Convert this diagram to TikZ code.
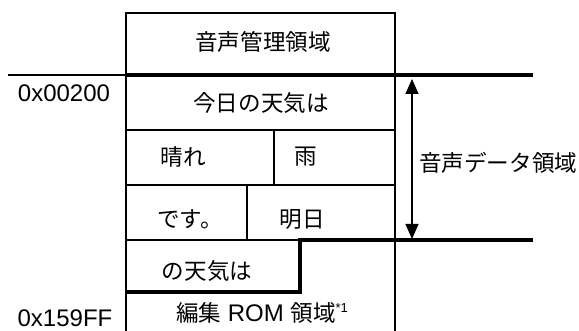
\documentclass[tikz,border=0pt]{standalone}
\usepackage{fontspec}
\setmainfont{Liberation Sans}
\newfontfamily\jp[Scale=0.94]{Noto Sans CJK JP}
\usetikzlibrary{arrows.meta}
\tikzset{cellline/.style={black, line width=1.2pt},
	bandline/.style={black, line width=3.5pt},
	span/.style={black, line width=1.5pt, {Triangle[width=13pt,length=15pt]}-{Triangle[width=13pt,length=15pt]}}}

\begin{document}
\begin{tikzpicture}[x=1pt, y=-1pt, font=\fontsize{24}{28}\selectfont]
\useasboundingbox (0,0) rectangle (579,331);
% table frame and cells
\draw[cellline](126,331)--(126,13)--(395,13)--(395,331);
\draw[cellline](8,75)--(126,75);
\draw[cellline](126,130)--(395,130) (126,185)--(395,185) (126,240)--(300,240);
\draw[cellline](274,130)--(274,185) (247,185)--(247,240);
\draw[bandline](126,75)--(533,75);
\draw[bandline](533,240)--(300,240)--(300,292)--(126,292);
% texts
\foreach \name/\x/\y/\txt in {mgmt/263/42/音声管理領域, today/261/103/今日の天気は,
	fine/183/157/晴れ, rain/306/157/雨, desu/190/219/です。, tmrw/302/219/明日,
	weather/207/271/の天気は}
	\node (\name) at (\x,\y) {\jp\txt};
\node[anchor=west, inner sep=0pt] (data) at (419,163) {\jp 音声データ領域};
\node (edit) at (262,313) {{\jp 編集} ROM {\jp 領域}\raisebox{9pt}{\fontsize{13}{13}\selectfont *1}};
\node (start) at (64,93) {0x00200};
\node (end) at (65,318) {0x159FF};
% data area span
\coordinate (top) at (412,79);
\coordinate (bot) at (412,239);
\draw[span](top)--(bot);
\end{tikzpicture}
\end{document}
